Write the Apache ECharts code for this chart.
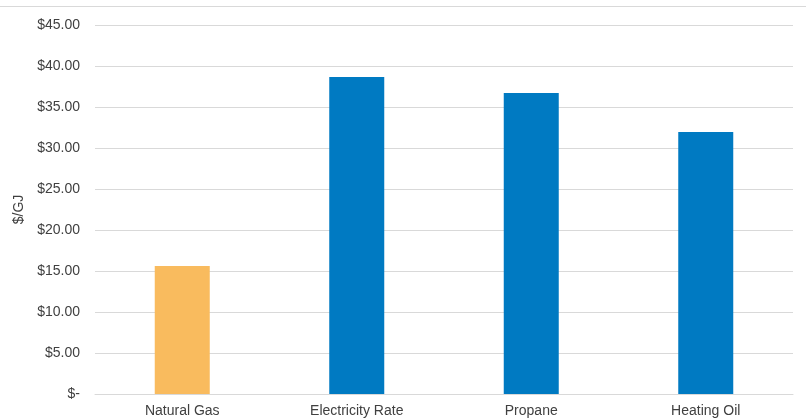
<!DOCTYPE html>
<html>
<head>
    <meta charset="utf-8" />
    <title>Energy cost per GJ</title>
    <script src="https://cdn.jsdelivr.net/npm/echarts@6/dist/echarts.min.js"></script>
    <style>
        html, body { margin: 0; padding: 0; background: #fff; }
        #chart { width: 806px; height: 420px; }
    </style>
</head>
<body>
    <div id="chart"></div>
    <script type="text/javascript">
        // data
        var categories = ['Natural Gas', 'Electricity Rate', 'Propane', 'Heating Oil'];
        var values = [15.6, 38.65, 36.7, 31.95];
        var barColors = ['#F9BB5E', '#007AC2', '#007AC2', '#007AC2'];

        var font = '"Liberation Sans", Arial, sans-serif';
        var myChart = echarts.init(document.getElementById('chart'));

        myChart.setOption({
            animation: false,
            grid: {
                top: 25,
                left: 95,
                right: 13,
                bottom: 26
            },
            graphic: [{
                type: 'line',
                shape: { x1: 0, y1: 6.5, x2: 806, y2: 6.5 },
                style: { stroke: '#d9d9d9', lineWidth: 1 }
            }],
            xAxis: {
                type: 'category',
                data: categories,
                axisLine: { lineStyle: { color: '#d9d9d9' } },
                axisTick: { show: false },
                axisLabel: {
                    color: '#404040',
                    fontSize: 14,
                    fontFamily: font,
                    margin: 10
                }
            },
            yAxis: {
                type: 'value',
                min: 0,
                max: 45,
                interval: 5,
                name: '$/GJ',
                nameLocation: 'middle',
                nameGap: 62,
                nameTextStyle: { color: '#404040', fontSize: 14, fontFamily: font },
                axisLine: { show: false },
                axisTick: { show: false },
                splitLine: { lineStyle: { color: '#d9d9d9' } },
                axisLabel: {
                    color: '#404040',
                    fontSize: 14,
                    fontFamily: font,
                    margin: 15,
                    formatter: function (v) {
                        return v === 0 ? '$-' : '$' + v.toFixed(2);
                    }
                }
            },
            series: [{
                type: 'bar',
                barWidth: 55,
                data: values.map(function (v, i) {
                    return { value: v, itemStyle: { color: barColors[i] } };
                })
            }]
        });
    </script>
</body>
</html>
